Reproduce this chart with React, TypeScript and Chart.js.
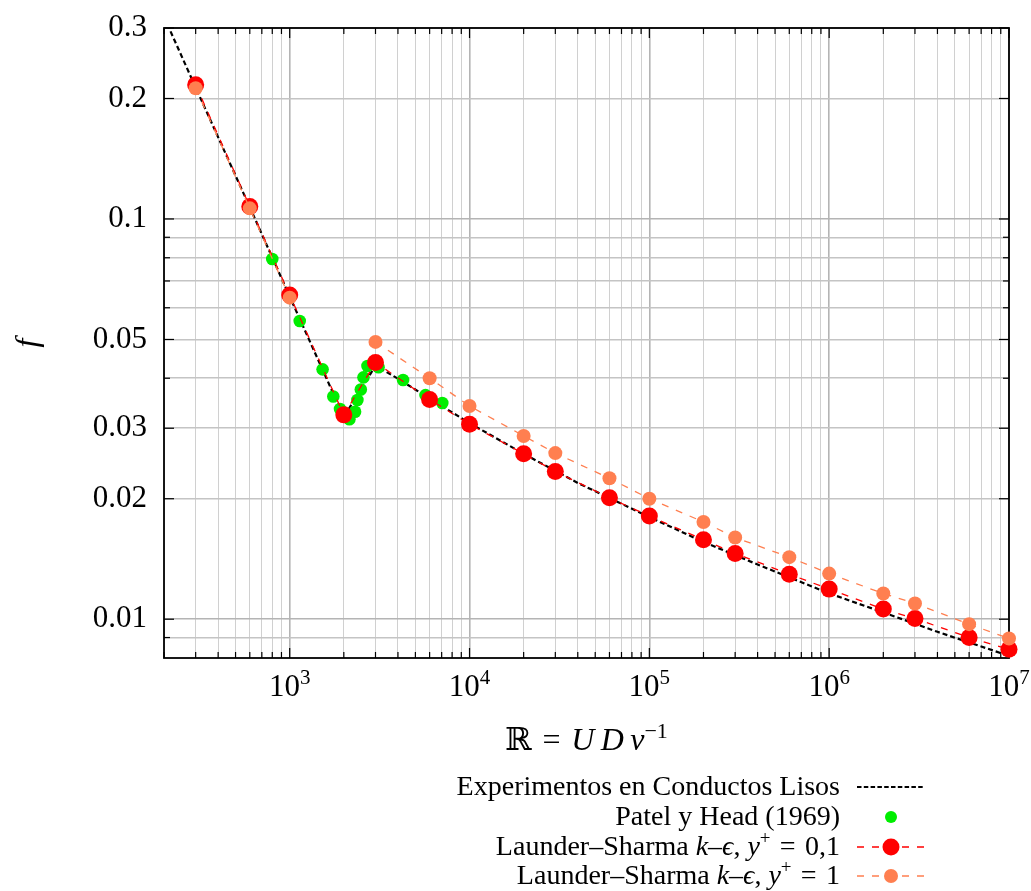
import React, { useEffect, useRef } from 'react';
import { Chart, registerables } from 'chart.js';

Chart.register(...registerables);

// ---------- data ----------
// Experimentos en Conductos Lisos (black dashed curve)
const expRe = [200, 300, 600, 1000, 2000, 3000, 4000, 6000, 1e4, 2e4, 4e4, 1e5, 2e5, 4e5, 1e6, 2e6, 4e6, 1e7];
const expF = [0.32, 0.213, 0.107, 0.064, 0.032, 0.043, 0.0399, 0.0356, 0.0309, 0.0259, 0.0219, 0.018, 0.0156, 0.0137, 0.0116, 0.0104, 0.0093, 0.0081];

// Patel y Head (1969)
const patelRe = [800, 1137, 1524, 1748, 1905, 2148, 2310, 2380, 2486, 2572, 2708, 3119, 4270, 5690, 7057];
const patelF = [0.0794, 0.0556, 0.0421, 0.036, 0.0335, 0.0316, 0.033, 0.0353, 0.0375, 0.0402, 0.0429, 0.0426, 0.0396, 0.0363, 0.0347];

// Launder–Sharma k–ε simulations
const lsRe = [300, 600, 1000, 2000, 3000, 6000, 1e4, 2e4, 3e4, 6e4, 1e5, 2e5, 3e5, 6e5, 1e6, 2e6, 3e6, 6e6, 1e7];
const lsF01 = [0.2163, 0.1074, 0.0646, 0.0324, 0.0438, 0.0354, 0.0307, 0.0259, 0.0234, 0.0201, 0.0181, 0.0158, 0.0146, 0.01296, 0.01189, 0.0106, 0.01004, 0.009, 0.00841];
const lsF1 = [0.2121, 0.1063, 0.0636, null, 0.0493, 0.04, 0.0341, 0.0287, 0.026, 0.0225, 0.02, 0.0175, 0.016, 0.01429, 0.013, 0.01159, 0.01095, 0.00972, 0.00895];

// axes
const xMin = 200;
const xMax = 1e7;
const yMin = 0.008;
const yMax = 0.3;
const xMajorTicks = [1e3, 1e4, 1e5, 1e6, 1e7];
const xTickExponents = ['3', '4', '5', '6', '7'];
const yLabelValues = [0.3, 0.2, 0.1, 0.05, 0.03, 0.02, 0.01];
const yLabelTexts = ['0.3', '0.2', '0.1', '0.05', '0.03', '0.02', '0.01'];
const yGridValues = [0.009, 0.01, 0.02, 0.03, 0.04, 0.05, 0.06, 0.07, 0.08, 0.09, 0.1, 0.2, 0.3];
const xGridMultipliers = [1, 2, 3, 4, 5, 6, 7, 8, 9];
const xGridDecades = [100, 1e3, 1e4, 1e5, 1e6, 1e7];

type Seg = { t: string; italic?: boolean; sup?: boolean };

const xTitle: Seg[] = [
  { t: 'ℝ' },
  { t: '\u2004=\u2004' },
  { t: 'U\u2009D\u2009ν', italic: true },
  { t: '−1', sup: true },
];
const yTitle = 'f';

const legendExp: Seg[] = [{ t: 'Experimentos en Conductos Lisos' }];
const legendPatel: Seg[] = [{ t: 'Patel y Head (1969)' }];
const legendLS01: Seg[] = [
  { t: 'Launder–Sharma ' },
  { t: 'k', italic: true },
  { t: '–' },
  { t: 'ϵ', italic: true },
  { t: ', ' },
  { t: 'y', italic: true },
  { t: '+', sup: true },
  { t: '\u2004=\u20040,1' },
];
const legendLS1: Seg[] = [
  { t: 'Launder–Sharma ' },
  { t: 'k', italic: true },
  { t: '–' },
  { t: 'ϵ', italic: true },
  { t: ', ' },
  { t: 'y', italic: true },
  { t: '+', sup: true },
  { t: '\u2004=\u20041' },
];

// ---------- styles ----------
const SERIF = "'Liberation Serif', 'DejaVu Serif', serif";
const BLACK = '#000000';
const GREEN = '#00ee00';
const RED = '#ff0000';
const CORAL = '#ff7f50';

const isDecade = (v: number) => Math.abs(Math.log10(v) - Math.round(Math.log10(v))) < 1e-9;

function drawSegs(ctx: CanvasRenderingContext2D, segs: Seg[], x: number, y: number, size: number, align: 'right' | 'center') {
  const supSize = Math.round(size * 0.68);
  const fontFor = (s: Seg) => `${s.italic ? 'italic ' : ''}${s.sup ? supSize : size}px ${SERIF}`;
  const widths = segs.map((s) => {
    ctx.font = fontFor(s);
    return ctx.measureText(s.t).width;
  });
  const total = widths.reduce((a, b) => a + b, 0);
  let cx = align === 'right' ? x - total : x - total / 2;
  ctx.textAlign = 'left';
  ctx.textBaseline = 'alphabetic';
  segs.forEach((s, i) => {
    ctx.font = fontFor(s);
    ctx.fillText(s.t, cx, s.sup ? y - size * 0.38 : y);
    cx += widths[i];
  });
}

const framePlugin = {
  id: 'gnuplotFrame',
  beforeDatasetsDraw(chart: any) {
    const { ctx, chartArea: a, scales } = chart;
    ctx.save();
    ctx.strokeStyle = BLACK;
    ctx.lineWidth = 1.2;
    const seg = (x1: number, y1: number, x2: number, y2: number) => {
      ctx.beginPath();
      ctx.moveTo(x1, y1);
      ctx.lineTo(x2, y2);
      ctx.stroke();
    };
    scales.x.ticks.forEach((t: any) => {
      const px = scales.x.getPixelForValue(t.value);
      const len = isDecade(t.value) ? 10 : 6;
      seg(px, a.bottom, px, a.bottom - len);
      seg(px, a.top, px, a.top + len);
    });
    scales.y.ticks.forEach((t: any) => {
      const py = scales.y.getPixelForValue(t.value);
      const len = yLabelValues.includes(t.value) ? 10 : 6;
      seg(a.left, py, a.left + len, py);
      seg(a.right, py, a.right - len, py);
    });
    ctx.lineWidth = 1.8;
    ctx.strokeRect(a.left, a.top, a.right - a.left, a.bottom - a.top);
    ctx.restore();
  },
  afterDraw(chart: any) {
    const { ctx, chartArea: a, scales } = chart;
    ctx.save();
    ctx.fillStyle = BLACK;

    // y tick labels
    ctx.font = `31px ${SERIF}`;
    ctx.textAlign = 'right';
    ctx.textBaseline = 'middle';
    yLabelValues.forEach((v, i) => {
      const py = scales.y.getPixelForValue(v);
      ctx.fillText(yLabelTexts[i], a.left - 17, py);
    });

    // x tick labels 10^n
    xMajorTicks.forEach((v, i) => {
      const px = scales.x.getPixelForValue(v);
      drawSegs(ctx, [{ t: '10' }, { t: xTickExponents[i], sup: true }], px, a.bottom + 38, 31, 'center');
    });

    // x title
    drawSegs(ctx, xTitle, (a.left + a.right) / 2, a.bottom + 92, 32, 'center');

    // y title
    ctx.save();
    ctx.translate(37, (a.top + a.bottom) / 2);
    ctx.rotate(-Math.PI / 2);
    ctx.font = `italic 32px ${SERIF}`;
    ctx.textAlign = 'center';
    ctx.textBaseline = 'alphabetic';
    ctx.fillText(yTitle, 0, 0);
    ctx.restore();

    // legend
    const textRight = 840;
    const sx1 = 857;
    const sx2 = 925;
    const sc = 891;
    const rows = [
      { segs: legendExp, base: a.bottom + 137 },
      { segs: legendPatel, base: a.bottom + 167 },
      { segs: legendLS01, base: a.bottom + 197 },
      { segs: legendLS1, base: a.bottom + 226 },
    ];
    rows.forEach((r) => drawSegs(ctx, r.segs, textRight, r.base, 28, 'right'));

    const dashLine = (y: number, color: string, width: number, dash: number[]) => {
      ctx.save();
      ctx.strokeStyle = color;
      ctx.lineWidth = width;
      ctx.setLineDash(dash);
      ctx.beginPath();
      ctx.moveTo(sx1, y);
      ctx.lineTo(sx2, y);
      ctx.stroke();
      ctx.restore();
    };
    const dot = (y: number, color: string, r: number) => {
      ctx.fillStyle = color;
      ctx.beginPath();
      ctx.arc(sc, y, r, 0, Math.PI * 2);
      ctx.fill();
    };
    dashLine(rows[0].base - 8, BLACK, 2, [4.5, 2.3]);
    dot(rows[1].base - 8, GREEN, 6);
    dashLine(rows[2].base - 8, RED, 1.3, [7, 8]);
    dot(rows[2].base - 8, RED, 8.5);
    dashLine(rows[3].base - 8, CORAL, 1.3, [7, 8]);
    dot(rows[3].base - 8, CORAL, 7);

    ctx.restore();
  },
};

const pts = (xs: number[], ys: (number | null)[]) => xs.map((x, i) => ({ x, y: ys[i] }));

export default function App() {
  const canvasRef = useRef<HTMLCanvasElement | null>(null);

  useEffect(() => {
    document.body.style.margin = '0';
    const canvas = canvasRef.current;
    if (!canvas) return;

    const xGrid: number[] = [];
    xGridDecades.forEach((d) =>
      xGridMultipliers.forEach((m) => {
        const v = m * d;
        if (v >= xMin && v <= xMax) xGrid.push(v);
      })
    );

    const chart = new Chart(canvas, {
      type: 'scatter',
      data: {
        datasets: [
          {
            label: 'Experimentos en Conductos Lisos',
            data: pts(expRe, expF),
            showLine: true,
            borderColor: BLACK,
            borderWidth: 2.2,
            borderDash: [5, 3],
            pointRadius: 0,
            order: 4,
            clip: 0,
          } as any,
          {
            label: 'Patel y Head (1969)',
            data: pts(patelRe, patelF),
            showLine: false,
            pointRadius: 6.3,
            pointBackgroundColor: GREEN,
            pointBorderWidth: 0,
            borderColor: GREEN,
            order: 3,
            clip: false,
          } as any,
          {
            label: 'Launder–Sharma k–ε, y+ = 0,1',
            data: pts(lsRe, lsF01),
            showLine: true,
            borderColor: RED,
            borderWidth: 1.3,
            borderDash: [7, 8],
            pointRadius: 8.5,
            pointBackgroundColor: RED,
            pointBorderWidth: 0,
            order: 2,
            clip: false,
          } as any,
          {
            label: 'Launder–Sharma k–ε, y+ = 1',
            data: pts(lsRe, lsF1),
            showLine: true,
            spanGaps: false,
            borderColor: CORAL,
            borderWidth: 1.3,
            borderDash: [7, 8],
            pointRadius: 7,
            pointBackgroundColor: CORAL,
            pointBorderWidth: 0,
            order: 1,
            clip: false,
          } as any,
        ],
      },
      options: {
        responsive: false,
        animation: false,
        devicePixelRatio: 1,
        layout: { padding: { top: 28, right: 22, bottom: 133, left: 0 } },
        plugins: {
          legend: { display: false },
          tooltip: { enabled: false },
        },
        events: [],
        scales: {
          x: {
            type: 'logarithmic',
            position: 'bottom',
            min: xMin,
            max: xMax,
            afterBuildTicks: (scale: any) => {
              scale.ticks = xGrid.map((v) => ({ value: v }));
            },
            afterFit: (scale: any) => {
              scale.height = 100;
            },
            ticks: { display: false },
            border: { display: false },
            grid: {
              drawTicks: false,
              color: (c: any) => (c.tick && isDecade(c.tick.value) ? '#b4b4b4' : '#d0d0d0'),
              lineWidth: (c: any) => (c.tick && isDecade(c.tick.value) ? 1.6 : 1),
            },
          },
          y: {
            type: 'logarithmic',
            position: 'left',
            min: yMin,
            max: yMax,
            afterBuildTicks: (scale: any) => {
              scale.ticks = yGridValues.map((v) => ({ value: v }));
            },
            afterFit: (scale: any) => {
              scale.width = 164;
            },
            ticks: { display: false },
            border: { display: false },
            grid: {
              drawTicks: false,
              color: (c: any) => (c.tick && isDecade(c.tick.value) ? '#b4b4b4' : '#c4c4c4'),
              lineWidth: 1.5,
            },
          },
        },
      } as any,
      plugins: [framePlugin],
    });

    return () => chart.destroy();
  }, []);

  return <canvas ref={canvasRef} width={1031} height={891} style={{ display: 'block' }} />;
}
